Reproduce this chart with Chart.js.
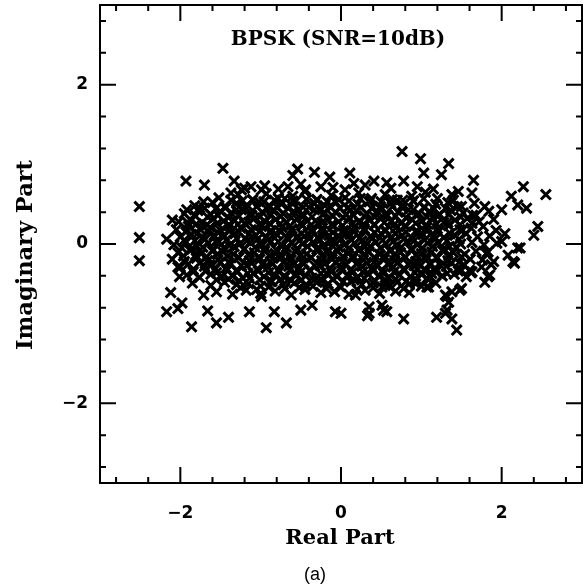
<!DOCTYPE html>
<html>
<head>
<meta charset="utf-8">
<script src="https://cdn.jsdelivr.net/npm/chart.js@4.4.1/dist/chart.umd.min.js"></script>
<style>
  html, body { margin: 0; padding: 0; background: #fff; }
  #wrap { width: 585px; height: 587px; }
</style>
</head>
<body>
<div id="wrap"><canvas id="scatter" width="585" height="587"></canvas></div>
<script>
// Received BPSK symbols (real / imaginary part), row by row
const REAL = [
  // y ~ 0.7
  -1.2,-0.95,-0.78,-0.5,-0.1,0.05,0.3,0.62,0.95,1.15,
  // y ~ 0.6
  -1.52,-1.28,-1.1,-0.93,-0.78,-0.6,-0.45,-0.3,-0.12,0.05,0.22,0.38,0.55,0.7,0.88,1.05,1.2,1.38,
  // y ~ 0.55
  -1.37,-1.23,-1.1,-0.96,-0.83,-0.7,-0.56,-0.43,-0.3,-0.17,-0.03,0.1,0.24,0.37,0.5,0.64,0.77,0.9,1.03,
  // y ~ 0.5
  -1.82,-1.6,-1.45,-1.3,-1.17,-1.02,-0.88,-0.74,-0.6,-0.47,-0.33,-0.2,-0.06,0.08,0.21,0.35,0.49,0.62,0.77,0.9,1.04,1.18,1.33,1.5,1.66,
  // y ~ 0.45
  -1.7,-1.56,-1.43,-1.3,-1.18,-1.05,-0.92,-0.79,-0.66,-0.53,-0.4,-0.27,-0.14,-0.01,0.12,0.25,0.38,0.51,0.64,0.77,0.9,1.03,1.16,1.3,1.45,
  // y ~ 0.4
  -1.95,-1.78,-1.62,-1.5,-1.37,-1.24,-1.11,-0.98,-0.85,-0.72,-0.59,-0.46,-0.33,-0.2,-0.07,0.06,0.19,0.32,0.45,0.58,0.71,0.84,0.97,1.1,1.23,1.37,1.52,1.68,1.84,
  // y ~ 0.35
  -1.81,-1.66,-1.53,-1.4,-1.27,-1.14,-1.01,-0.88,-0.75,-0.62,-0.49,-0.36,-0.23,-0.1,0.03,0.16,0.29,0.42,0.55,0.68,0.81,0.94,1.07,1.2,1.34,1.49,1.64,
  // y ~ 0.3
  -2.02,-1.88,-1.73,-1.59,-1.46,-1.33,-1.2,-1.07,-0.94,-0.81,-0.68,-0.55,-0.42,-0.29,-0.16,-0.03,0.1,0.23,0.36,0.49,0.62,0.75,0.88,1.01,1.14,1.28,1.42,1.57,1.72,1.9,
  // y ~ 0.25
  -1.8,-1.67,-1.54,-1.41,-1.28,-1.15,-1.02,-0.89,-0.76,-0.63,-0.5,-0.37,-0.24,-0.11,0.02,0.15,0.28,0.41,0.54,0.67,0.8,0.93,1.06,1.19,1.33,1.48,1.63,
  // y ~ 0.2
  -2.05,-1.9,-1.76,-1.63,-1.5,-1.38,-1.25,-1.12,-0.99,-0.87,-0.74,-0.61,-0.48,-0.36,-0.23,-0.1,0.03,0.16,0.29,0.42,0.55,0.68,0.81,0.94,1.07,1.2,1.34,1.48,1.62,1.77,1.93,
  // y ~ 0.15
  -1.93,-1.79,-1.66,-1.53,-1.4,-1.27,-1.14,-1.01,-0.88,-0.75,-0.62,-0.49,-0.36,-0.23,-0.1,0.03,0.16,0.29,0.42,0.55,0.68,0.81,0.94,1.07,1.21,1.36,1.51,
  // y ~ 0.1
  -2.0,-1.86,-1.72,-1.58,-1.45,-1.32,-1.19,-1.06,-0.93,-0.8,-0.67,-0.54,-0.41,-0.28,-0.15,-0.02,0.11,0.24,0.37,0.5,0.63,0.76,0.89,1.02,1.15,1.28,1.42,1.56,1.7,1.85,
  // y ~ 0.05
  -1.95,-1.82,-1.69,-1.56,-1.43,-1.3,-1.17,-1.04,-0.91,-0.78,-0.65,-0.52,-0.39,-0.26,-0.13,0.0,0.13,0.26,0.39,0.52,0.65,0.78,0.91,1.04,1.18,1.32,1.47,
  // y ~ 0
  -2.08,-1.93,-1.79,-1.65,-1.52,-1.39,-1.26,-1.13,-1.0,-0.87,-0.74,-0.61,-0.48,-0.35,-0.22,-0.09,0.04,0.17,0.3,0.43,0.56,0.69,0.82,0.95,1.08,1.21,1.35,1.49,1.63,1.78,1.94,
  // y ~ -0.05
  -1.98,-1.85,-1.72,-1.59,-1.46,-1.33,-1.2,-1.07,-0.94,-0.81,-0.68,-0.55,-0.42,-0.29,-0.16,-0.03,0.1,0.23,0.36,0.49,0.62,0.75,0.88,1.01,1.14,1.28,1.43,
  // y ~ -0.1
  -2.03,-1.88,-1.74,-1.6,-1.47,-1.34,-1.21,-1.08,-0.95,-0.82,-0.69,-0.56,-0.43,-0.3,-0.17,-0.04,0.09,0.22,0.35,0.48,0.61,0.74,0.87,1.0,1.13,1.26,1.4,1.54,1.68,1.83,
  // y ~ -0.15
  -1.96,-1.81,-1.67,-1.54,-1.41,-1.28,-1.15,-1.02,-0.89,-0.76,-0.63,-0.5,-0.37,-0.24,-0.11,0.02,0.15,0.28,0.41,0.54,0.67,0.8,0.93,1.06,1.2,1.34,1.5,
  // y ~ -0.2
  -2.1,-1.95,-1.8,-1.66,-1.53,-1.4,-1.27,-1.14,-1.01,-0.88,-0.75,-0.62,-0.49,-0.37,-0.24,-0.11,0.02,0.15,0.28,0.41,0.54,0.67,0.8,0.93,1.06,1.19,1.33,1.47,1.61,1.76,1.9,
  // y ~ -0.25
  -1.9,-1.76,-1.63,-1.5,-1.37,-1.24,-1.11,-0.98,-0.85,-0.72,-0.59,-0.46,-0.33,-0.2,-0.07,0.06,0.19,0.32,0.45,0.58,0.71,0.84,0.97,1.1,1.24,1.38,1.53,
  // y ~ -0.3
  -2.0,-1.84,-1.7,-1.56,-1.43,-1.3,-1.17,-1.04,-0.91,-0.78,-0.65,-0.52,-0.39,-0.26,-0.13,0.0,0.13,0.26,0.39,0.52,0.65,0.78,0.91,1.04,1.17,1.31,1.45,1.6,1.75,
  // y ~ -0.35
  -1.84,-1.69,-1.55,-1.42,-1.29,-1.16,-1.03,-0.9,-0.77,-0.64,-0.51,-0.38,-0.25,-0.12,0.01,0.14,0.27,0.4,0.53,0.66,0.79,0.92,1.05,1.18,1.32,1.46,1.62,
  // y ~ -0.4
  -1.92,-1.76,-1.62,-1.48,-1.35,-1.22,-1.09,-0.96,-0.83,-0.7,-0.57,-0.44,-0.31,-0.18,-0.05,0.08,0.21,0.34,0.47,0.6,0.73,0.86,0.99,1.12,1.26,1.41,1.56,
  // y ~ -0.45
  -1.55,-1.4,-1.27,-1.14,-1.01,-0.88,-0.75,-0.62,-0.49,-0.36,-0.23,-0.1,0.03,0.16,0.29,0.42,0.55,0.68,0.81,0.94,1.07,
  // y ~ -0.5
  -1.85,-1.62,-1.45,-1.3,-1.15,-1.0,-0.86,-0.72,-0.58,-0.44,-0.3,-0.16,-0.02,0.12,0.26,0.4,0.55,0.7,0.85,1.0,1.18,
  // y ~ -0.55
  -1.25,-1.05,-0.9,-0.7,-0.52,-0.35,-0.18,0.0,0.2,0.4,0.6,0.78,
  // y ~ -0.6
  -1.55,-1.35,-1.18,-1.0,-0.82,-0.62,-0.45,-0.25,-0.08,0.1,0.3,0.48,0.68,0.85,
  // outer points, left half
  -2.51,-2.51,-2.51,-2.17,-2.10,-1.93,-1.70,-1.47,-1.33,-1.92,-1.90,-1.71,-1.76,-2.12,-2.17,-2.03,
  -1.98,-1.86,-1.66,-1.55,-1.40,-1.14,-0.93,-0.68,-1.71,-2.03,-2.01,-0.99,-0.83,-0.50,-0.36,-0.07,
  -0.54,-0.33,-0.60,-0.14,-0.66,-0.44,-0.25,-1.12,-0.99,-1.37,-1.24,
  // outer points, right half
  0.76,0.99,1.34,0.11,1.03,1.25,1.65,0.16,0.41,0.57,0.78,2.27,2.55,2.12,2.20,2.31,
  2.00,1.63,1.46,1.40,1.79,2.45,2.40,2.23,2.08,2.16,2.00,2.04,1.81,1.87,1.83,1.79,
  1.63,1.50,1.50,1.38,1.30,1.34,1.19,1.30,1.38,1.44,0.78,0.57,0.51,0.35,0.35,0.18,
  0.93,1.09,0.95,1.13,0.51,0.00,0.33,0.53,1.32,1.32,1.48,1.07,1.85,2.14,2.20
];
const IMAG = [
  // y ~ 0.7
  0.7,0.73,0.69,0.75,0.71,0.68,0.74,0.7,0.72,0.69,
  // y ~ 0.6
  0.58,0.62,0.55,0.63,0.57,0.6,0.66,0.56,0.61,0.58,0.64,0.57,0.62,0.55,0.6,0.65,0.57,0.62,
  // y ~ 0.55
  0.55,0.54,0.56,0.53,0.55,0.57,0.54,0.56,0.55,0.53,0.56,0.54,0.57,0.55,0.53,0.56,0.55,0.54,0.57,
  // y ~ 0.5
  0.48,0.52,0.46,0.51,0.49,0.53,0.47,0.5,0.54,0.46,0.51,0.48,0.52,0.45,0.5,0.53,0.47,0.51,0.49,0.54,0.46,0.5,0.52,0.47,0.51,
  // y ~ 0.45
  0.45,0.44,0.46,0.43,0.45,0.47,0.44,0.46,0.45,0.43,0.46,0.44,0.47,0.45,0.43,0.46,0.45,0.44,0.47,0.45,0.43,0.46,0.44,0.45,0.47,
  // y ~ 0.4
  0.38,0.42,0.37,0.41,0.39,0.43,0.36,0.4,0.42,0.38,0.41,0.36,0.43,0.39,0.4,0.37,0.42,0.38,0.41,0.36,0.4,0.43,0.38,0.41,0.37,0.42,0.39,0.36,0.41,
  // y ~ 0.35
  0.35,0.34,0.36,0.33,0.35,0.37,0.34,0.36,0.35,0.33,0.36,0.34,0.37,0.35,0.33,0.36,0.35,0.34,0.37,0.35,0.33,0.36,0.34,0.35,0.37,0.34,0.36,
  // y ~ 0.3
  0.28,0.31,0.27,0.32,0.29,0.3,0.26,0.33,0.28,0.31,0.27,0.32,0.29,0.26,0.31,0.28,0.33,0.27,0.3,0.32,0.28,0.26,0.31,0.29,0.33,0.27,0.3,0.32,0.28,0.31,
  // y ~ 0.25
  0.25,0.24,0.26,0.23,0.25,0.27,0.24,0.26,0.25,0.23,0.26,0.24,0.27,0.25,0.23,0.26,0.25,0.24,0.27,0.25,0.23,0.26,0.24,0.25,0.27,0.24,0.26,
  // y ~ 0.2
  0.18,0.22,0.19,0.21,0.17,0.23,0.2,0.18,0.22,0.17,0.21,0.19,0.23,0.18,0.2,0.22,0.17,0.21,0.19,0.24,0.18,0.2,0.22,0.17,0.21,0.19,0.23,0.18,0.2,0.22,0.17,
  // y ~ 0.15
  0.15,0.13,0.16,0.14,0.17,0.15,0.13,0.16,0.14,0.15,0.17,0.13,0.15,0.16,0.14,0.13,0.15,0.17,0.14,0.16,0.13,0.15,0.14,0.16,0.15,0.13,0.17,
  // y ~ 0.1
  0.09,0.12,0.08,0.11,0.1,0.13,0.07,0.11,0.09,0.12,0.08,0.1,0.13,0.07,0.11,0.09,0.12,0.08,0.1,0.13,0.09,0.11,0.07,0.12,0.1,0.08,0.11,0.13,0.09,0.1,
  // y ~ 0.05
  0.05,0.04,0.06,0.03,0.05,0.07,0.04,0.06,0.05,0.03,0.06,0.04,0.07,0.05,0.03,0.06,0.05,0.04,0.07,0.05,0.03,0.06,0.04,0.05,0.07,0.04,0.06,
  // y ~ 0
  -0.01,0.02,-0.03,0.01,0.03,-0.02,0.0,0.02,-0.01,0.03,-0.03,0.01,0.0,0.02,-0.02,0.03,-0.01,0.01,-0.03,0.02,0.0,-0.02,0.03,-0.01,0.01,0.02,-0.03,0.0,0.02,-0.01,0.01,
  // y ~ -0.05
  -0.05,-0.06,-0.04,-0.07,-0.05,-0.03,-0.06,-0.04,-0.05,-0.07,-0.04,-0.06,-0.03,-0.05,-0.07,-0.04,-0.05,-0.06,-0.03,-0.05,-0.07,-0.04,-0.06,-0.05,-0.03,-0.06,-0.04,
  // y ~ -0.1
  -0.11,-0.08,-0.12,-0.09,-0.1,-0.13,-0.07,-0.11,-0.09,-0.12,-0.08,-0.1,-0.13,-0.07,-0.11,-0.09,-0.12,-0.08,-0.1,-0.13,-0.09,-0.11,-0.07,-0.12,-0.1,-0.08,-0.11,-0.13,-0.09,-0.1,
  // y ~ -0.15
  -0.15,-0.14,-0.16,-0.13,-0.15,-0.17,-0.14,-0.16,-0.15,-0.13,-0.16,-0.14,-0.17,-0.15,-0.13,-0.16,-0.15,-0.14,-0.17,-0.15,-0.13,-0.16,-0.14,-0.15,-0.17,-0.14,-0.16,
  // y ~ -0.2
  -0.19,-0.22,-0.18,-0.21,-0.2,-0.23,-0.17,-0.21,-0.19,-0.22,-0.18,-0.2,-0.23,-0.17,-0.21,-0.19,-0.22,-0.18,-0.2,-0.23,-0.19,-0.21,-0.17,-0.22,-0.2,-0.18,-0.21,-0.23,-0.19,-0.2,-0.22,
  // y ~ -0.25
  -0.25,-0.24,-0.26,-0.23,-0.25,-0.27,-0.24,-0.26,-0.25,-0.23,-0.26,-0.24,-0.27,-0.25,-0.23,-0.26,-0.25,-0.24,-0.27,-0.25,-0.23,-0.26,-0.24,-0.25,-0.27,-0.24,-0.26,
  // y ~ -0.3
  -0.29,-0.32,-0.28,-0.31,-0.3,-0.33,-0.27,-0.31,-0.29,-0.32,-0.28,-0.3,-0.33,-0.27,-0.31,-0.29,-0.32,-0.28,-0.3,-0.33,-0.29,-0.31,-0.27,-0.32,-0.3,-0.28,-0.31,-0.33,-0.29,
  // y ~ -0.35
  -0.35,-0.34,-0.36,-0.33,-0.35,-0.37,-0.34,-0.36,-0.35,-0.33,-0.36,-0.34,-0.37,-0.35,-0.33,-0.36,-0.35,-0.34,-0.37,-0.35,-0.33,-0.36,-0.34,-0.35,-0.37,-0.34,-0.36,
  // y ~ -0.4
  -0.39,-0.42,-0.38,-0.41,-0.4,-0.43,-0.37,-0.41,-0.39,-0.42,-0.38,-0.4,-0.43,-0.37,-0.41,-0.39,-0.42,-0.38,-0.4,-0.43,-0.39,-0.41,-0.37,-0.42,-0.4,-0.38,-0.41,
  // y ~ -0.45
  -0.45,-0.44,-0.46,-0.43,-0.45,-0.47,-0.44,-0.46,-0.45,-0.43,-0.46,-0.44,-0.47,-0.45,-0.43,-0.46,-0.45,-0.44,-0.47,-0.45,-0.43,
  // y ~ -0.5
  -0.49,-0.52,-0.48,-0.51,-0.5,-0.53,-0.47,-0.51,-0.49,-0.52,-0.48,-0.5,-0.53,-0.47,-0.51,-0.49,-0.52,-0.48,-0.5,-0.53,-0.49,
  // y ~ -0.55
  -0.55,-0.57,-0.54,-0.56,-0.55,-0.53,-0.56,-0.54,-0.57,-0.55,-0.53,-0.56,
  // y ~ -0.6
  -0.6,-0.63,-0.58,-0.62,-0.59,-0.64,-0.57,-0.61,-0.6,-0.63,-0.58,-0.62,-0.59,-0.61,
  // outer points, left half
  0.47,0.08,-0.21,0.06,0.30,0.79,0.74,0.95,0.79,0.43,0.26,0.53,0.45,-0.61,-0.85,-0.81,
  -0.74,-1.04,-0.84,-0.99,-0.92,-0.85,-1.05,-0.99,-0.64,-0.29,-0.41,-0.66,-0.85,-0.83,-0.77,-0.85,
  0.94,0.90,0.86,0.84,0.72,0.68,0.72,0.72,0.68,0.64,0.68,
  // outer points, right half
  1.16,1.07,1.01,0.89,0.89,0.87,0.80,0.76,0.79,0.77,0.79,0.72,0.62,0.60,0.49,0.45,
  0.43,0.64,0.66,0.55,0.47,0.22,0.11,-0.05,-0.14,-0.24,0.03,0.13,-0.12,-0.26,-0.41,-0.48,
  -0.35,-0.33,-0.56,-0.60,-0.64,-0.73,-0.92,-0.87,-0.94,-1.08,-0.94,-0.85,-0.77,-0.79,-0.87,-0.64,
  -0.50,-0.54,-0.31,-0.37,-0.54,-0.87,-0.90,-0.83,-0.83,-0.66,-0.58,-0.54,-0.39,-0.22,-0.05
];

const AXIS_MIN = -3;
const AXIS_MAX = 3;
const MAJOR_TICKS = [-2, 0, 2];
const MINOR_TICKS = [-2.8, -2.4, -1.6, -1.2, -0.8, -0.4, 0.4, 0.8, 1.2, 1.6, 2.4, 2.8];

const TITLE = 'BPSK (SNR=10dB)';
const X_TITLE = 'Real Part';
const Y_TITLE = 'Imaginary Part';
const CAPTION = '(a)';

const points = REAL.map((re, i) => ({ x: re, y: IMAG[i] }));

const fmtTick = v => (v < 0 ? '\u2212' + Math.abs(v) : String(v));

// frame with inward ticks on all four sides, plus the texts
const framePlugin = {
    id: 'frame',
    afterDraw(chart) {
        const { ctx, chartArea: a, scales: { x, y } } = chart;
        ctx.save();
        ctx.strokeStyle = '#000';
        ctx.lineWidth = 2;
        ctx.lineCap = 'butt';
        ctx.strokeRect(a.left, a.top, a.right - a.left, a.bottom - a.top);

        const tick = (v, len) => {
            const px = x.getPixelForValue(v);
            const py = y.getPixelForValue(v);
            ctx.beginPath();
            ctx.moveTo(px, a.bottom); ctx.lineTo(px, a.bottom - len);
            ctx.moveTo(px, a.top); ctx.lineTo(px, a.top + len);
            ctx.moveTo(a.left, py); ctx.lineTo(a.left + len, py);
            ctx.moveTo(a.right, py); ctx.lineTo(a.right - len, py);
            ctx.stroke();
        };
        MAJOR_TICKS.forEach(v => tick(v, 16));
        MINOR_TICKS.forEach(v => tick(v, 6));

        ctx.fillStyle = '#000';
        ctx.textAlign = 'center';
        ctx.textBaseline = 'middle';
        ctx.font = 'bold 20px "DejaVu Serif"';
        ctx.fillText(TITLE, 338, 40);

        ctx.font = 'bold 21px "DejaVu Serif"';
        ctx.fillText(X_TITLE, 340, 539);

        ctx.save();
        ctx.translate(26, 255);
        ctx.rotate(-Math.PI / 2);
        ctx.font = 'bold 22.5px "DejaVu Serif"';
        ctx.fillText(Y_TITLE, 0, 0);
        ctx.restore();

        ctx.font = '18px "Liberation Sans"';
        ctx.fillText(CAPTION, 315, 575);
        ctx.restore();
    }
};

const tickFont = { family: '"DejaVu Sans"', size: 17, weight: 'bold' };

new Chart(document.getElementById('scatter'), {
    type: 'scatter',
    data: {
        datasets: [{
            data: points,
            pointStyle: 'crossRot',
            radius: 7,
            borderColor: '#000',
            backgroundColor: '#000',
            borderWidth: 3
        }]
    },
    options: {
        responsive: false,
        animation: false,
        events: [],
        layout: { autoPadding: false, padding: { top: 5, right: 3, left: 0, bottom: 0 } },
        plugins: { legend: { display: false }, tooltip: { enabled: false } },
        scales: {
            x: {
                type: 'linear',
                min: AXIS_MIN,
                max: AXIS_MAX,
                afterBuildTicks: s => { s.ticks = MAJOR_TICKS.map(v => ({ value: v })); },
                afterFit: s => { s.height = 104; s.paddingLeft = 0; s.paddingRight = 0; },
                grid: { display: false, drawTicks: false },
                border: { display: false },
                ticks: { color: '#000', font: tickFont, padding: 20, maxRotation: 0, callback: fmtTick }
            },
            y: {
                type: 'linear',
                min: AXIS_MIN,
                max: AXIS_MAX,
                afterBuildTicks: s => { s.ticks = MAJOR_TICKS.map(v => ({ value: v })); },
                afterFit: s => { s.width = 100; s.paddingTop = 0; s.paddingBottom = 0; },
                grid: { display: false, drawTicks: false },
                border: { display: false },
                ticks: { color: '#000', font: tickFont, padding: 12, callback: fmtTick }
            }
        }
    },
    plugins: [framePlugin]
});
</script>
</body>
</html>
